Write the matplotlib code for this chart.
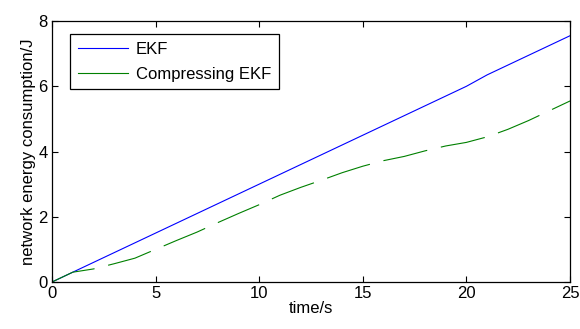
import numpy as np
import matplotlib.pyplot as plt
from matplotlib.lines import Line2D

plt.rcParams['font.family'] = ['Liberation Sans', 'DejaVu Sans']

# values
t = np.arange(0, 26)
ekf = [0, 0.3, 0.6, 0.9, 1.2, 1.5, 1.8, 2.1, 2.4, 2.7, 3.0, 3.3, 3.6, 3.9,
       4.2, 4.5, 4.8, 5.1, 5.4, 5.7, 6.0, 6.35, 6.65, 6.95, 7.25, 7.55]
comp_ekf = [0, 0.3, 0.4, 0.56, 0.73, 1.0, 1.27, 1.53, 1.82, 2.1, 2.37, 2.66,
            2.9, 3.12, 3.35, 3.55, 3.72, 3.85, 4.02, 4.17, 4.28, 4.45, 4.68,
            4.95, 5.25, 5.55]

fig = plt.figure(figsize=(5.8, 3.29), dpi=100)
ax = fig.add_axes([0.0897, 0.1429, 0.8931, 0.7931])

lw = 0.8
ax.plot(t, ekf, color='#0000ff', lw=lw)
ax.plot(t, comp_ekf, color='#008000', lw=lw,
        linestyle=(0, (45 * 0.72 / lw, 14 * 0.72 / lw)))

ax.set_xlim(0, 25)
ax.set_ylim(0, 8)
ax.set_xticks([0, 5, 10, 15, 20, 25])
ax.set_yticks([0, 2, 4, 6, 8])
ax.tick_params(direction='in', top=True, right=True, length=4, width=0.8,
               labelsize=12, pad=3)
for s in ax.spines.values():
    s.set_linewidth(0.9)

ax.set_xlabel('time/s', fontsize=12, labelpad=0)
ax.set_ylabel('network energy consumption/J', fontsize=12, labelpad=2)

handles = [Line2D([], [], color='#0000ff', lw=lw),
           Line2D([], [], color='#008000', lw=lw)]
leg = ax.legend(handles, ['EKF', 'Compressing EKF'], loc='upper left',
                bbox_to_anchor=(0.035, 0.95), borderaxespad=0, fontsize=12,
                fancybox=False, edgecolor='black', framealpha=1,
                handlelength=3.0, handletextpad=0.5, labelspacing=0.6,
                borderpad=0.45)
leg.get_frame().set_linewidth(0.9)

fig.savefig('out.png', dpi=100)
